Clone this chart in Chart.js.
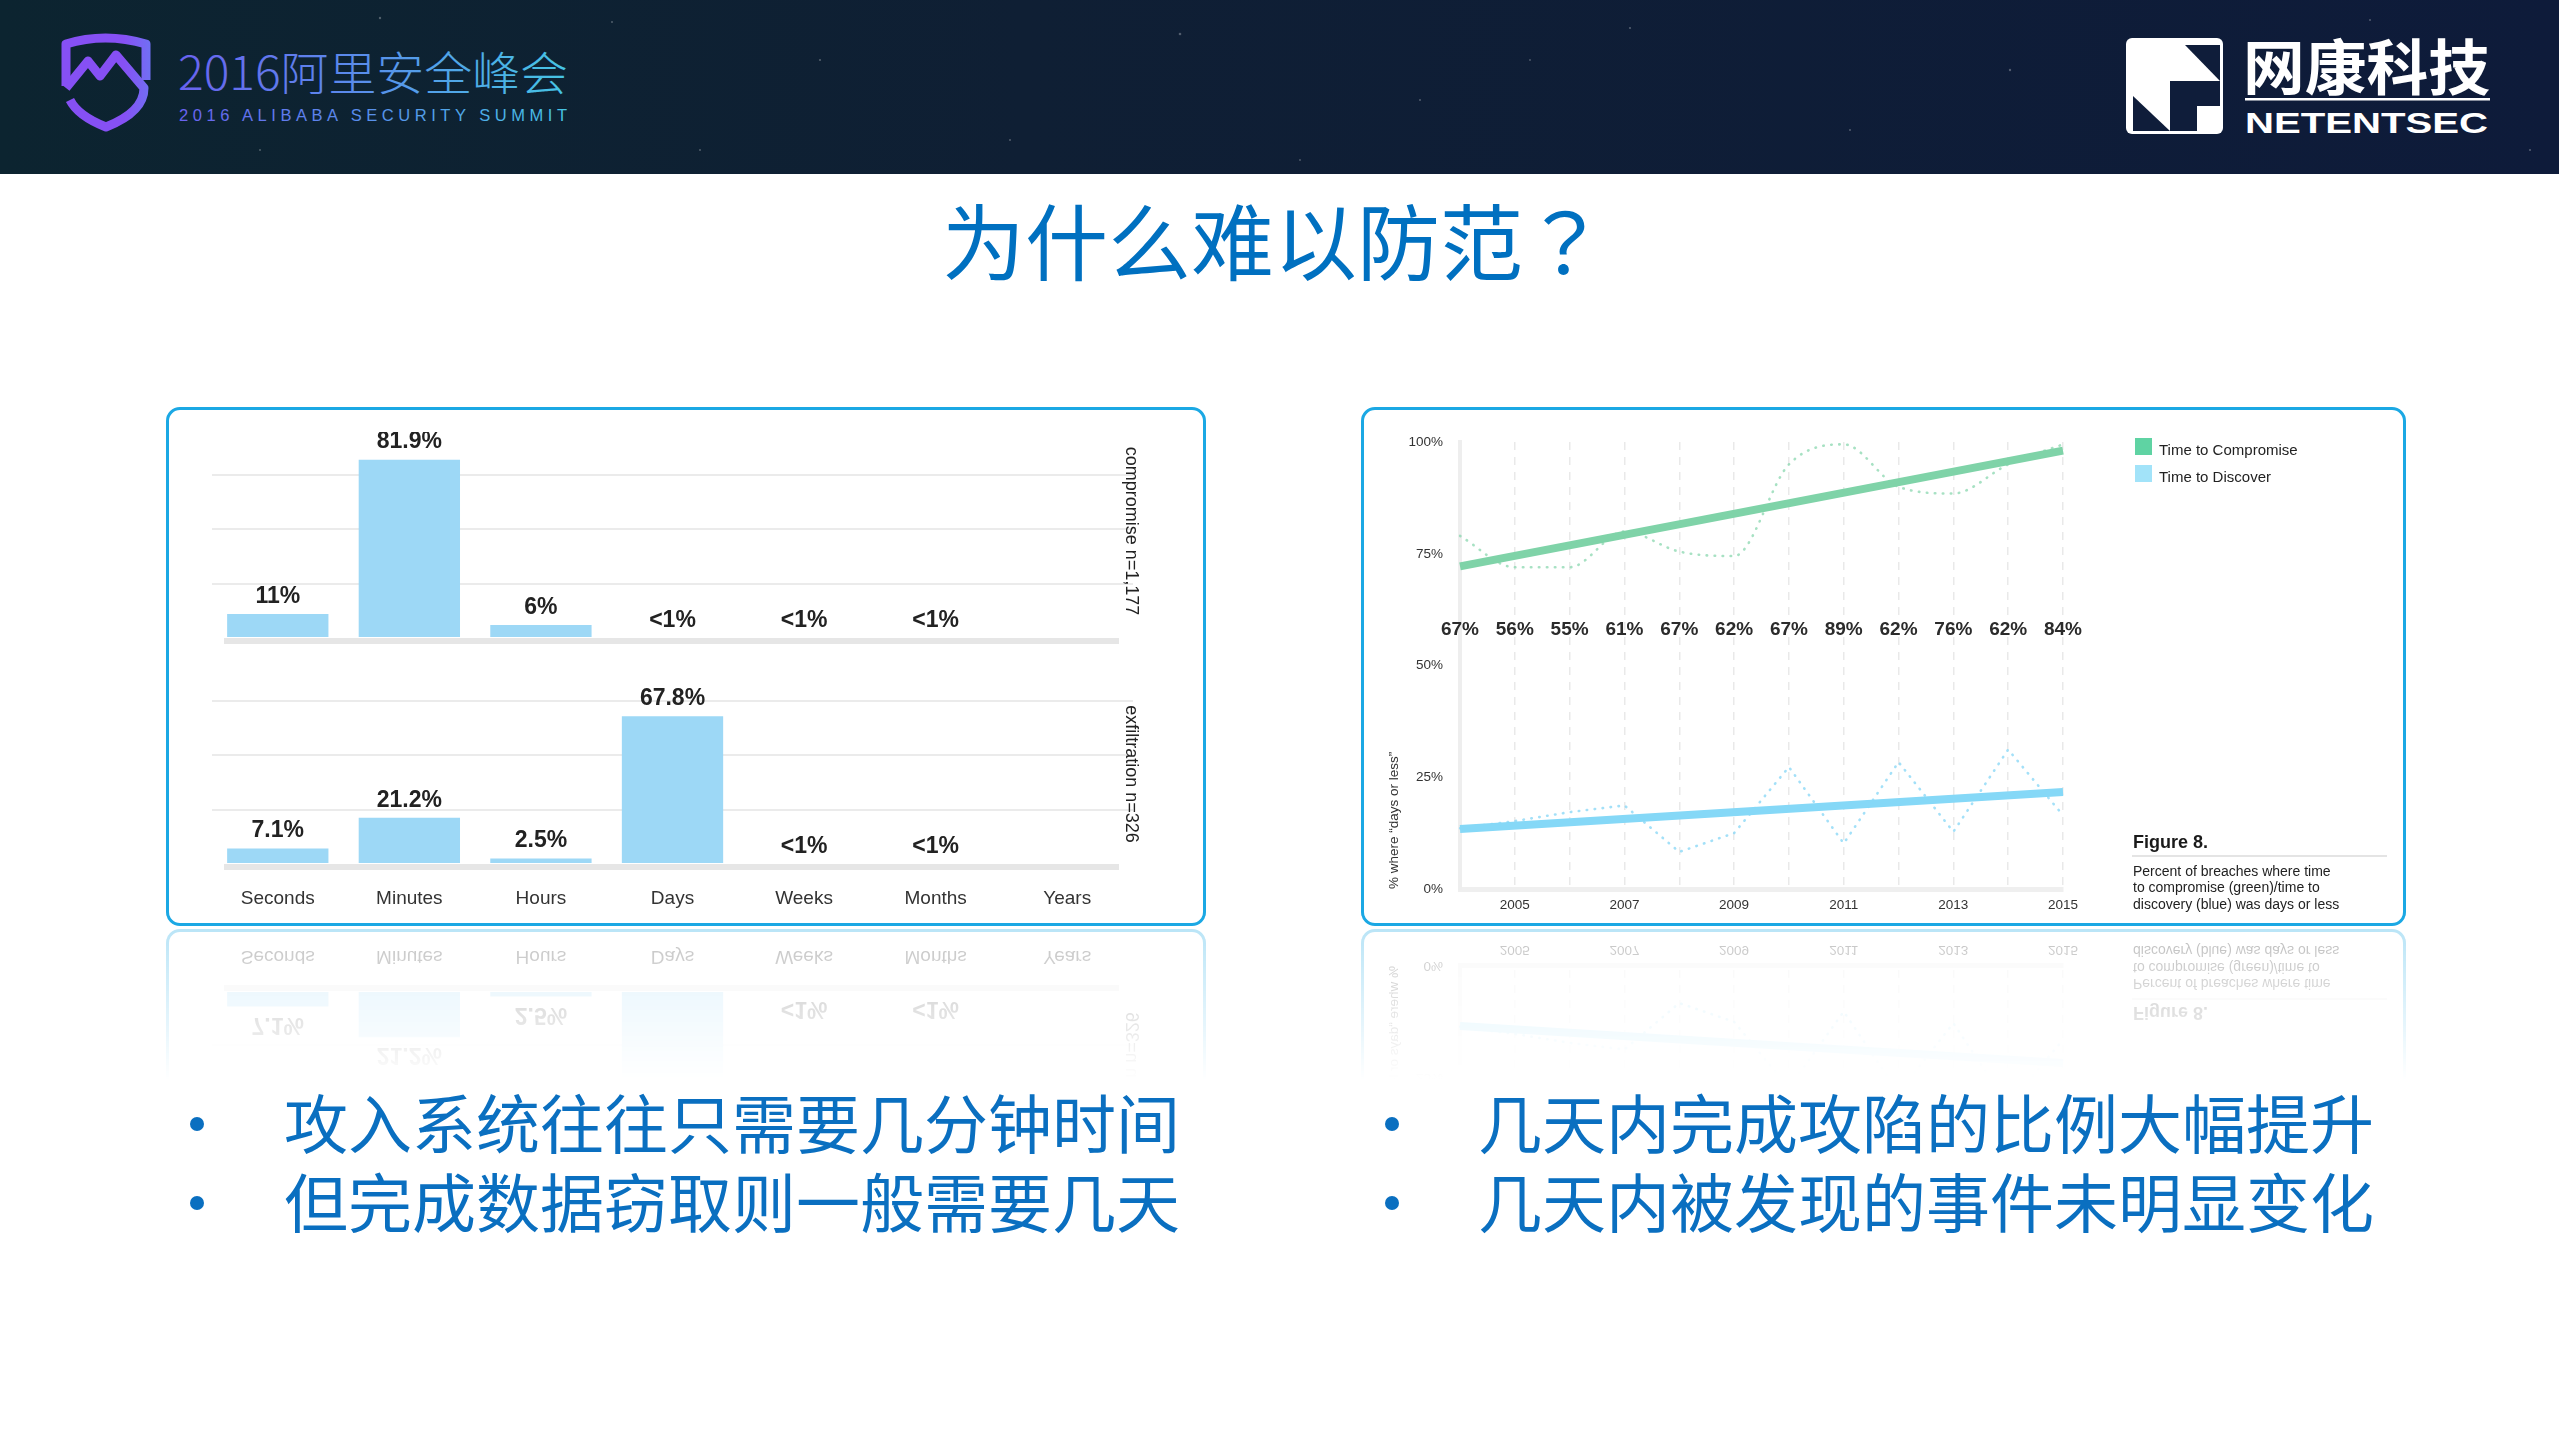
<!DOCTYPE html>
<html lang="zh-CN">
<head>
<meta charset="utf-8">
<title>为什么难以防范？</title>
<script src="https://cdn.jsdelivr.net/npm/chart.js@4.4.1/dist/chart.umd.min.js"></script>
<style>
html,body{margin:0;padding:0;background:#fff;}
body{width:2559px;height:1439px;position:relative;overflow:hidden;font-family:"Liberation Sans",Arial,sans-serif;}
.abs{position:absolute;}
.panel{position:absolute;box-sizing:border-box;border:3px solid #1ba8e4;border-radius:14px;background:#fff;
  -webkit-box-reflect: below 3px linear-gradient(to bottom, rgba(0,0,0,0) 71%, rgba(0,0,0,0.30) 100%);}
.panel canvas{position:absolute;}
.rot{position:absolute;transform:translate(-50%,-50%) rotate(90deg);white-space:nowrap;font-size:18px;color:#222;}
.cjk{font-family:"Noto Sans CJK SC","Noto Sans CJK TC",sans-serif;}
.title{position:absolute;left:942px;top:197px;font-size:83px;line-height:1;color:#0070c0;white-space:nowrap;}
.qm{font-family:"Noto Sans CJK TC","Noto Sans CJK JP",sans-serif;}
.bl{position:absolute;font-size:64px;line-height:1;color:#0a6fc0;white-space:nowrap;}
.dot{position:absolute;width:14px;height:14px;border-radius:50%;background:#0a6fc0;}
.lg{position:absolute;font-size:15px;line-height:17px;color:#222;white-space:nowrap;}
.sq{position:absolute;width:17px;height:17px;}
</style>
</head>
<body>

<svg class="abs" style="left:0;top:0" width="2559" height="174" xmlns="http://www.w3.org/2000/svg">
  <defs>
    <linearGradient id="hbg" x1="0" y1="0" x2="1" y2="0">
      <stop offset="0" stop-color="#0c2430"/>
      <stop offset="0.4" stop-color="#0f1f34"/>
      <stop offset="1" stop-color="#0e1b3a"/>
    </linearGradient>
    <linearGradient id="tg" gradientUnits="userSpaceOnUse" x1="178" y1="0" x2="570" y2="0">
      <stop offset="0" stop-color="#6a62ef"/>
      <stop offset="0.45" stop-color="#5a8ceb"/>
      <stop offset="1" stop-color="#45c6e4"/>
    </linearGradient>
    <linearGradient id="sg" gradientUnits="userSpaceOnUse" x1="62" y1="0" x2="150" y2="0">
      <stop offset="0" stop-color="#8650f4"/>
      <stop offset="1" stop-color="#3fb8f0"/>
    </linearGradient>
  </defs>
  <rect x="0" y="0" width="2559" height="174" fill="url(#hbg)"/>
  <g fill="#ffffff" opacity="0.28">
    <circle cx="380" cy="18" r="1.2"/><circle cx="612" cy="22" r="1"/><circle cx="820" cy="60" r="1.1"/>
    <circle cx="1010" cy="140" r="1"/><circle cx="1180" cy="34" r="1.3"/><circle cx="1420" cy="100" r="1"/>
    <circle cx="1630" cy="28" r="1.1"/><circle cx="1850" cy="130" r="1"/><circle cx="2010" cy="70" r="1.2"/>
    <circle cx="2370" cy="20" r="1"/><circle cx="2530" cy="150" r="1.1"/><circle cx="700" cy="150" r="1"/>
    <circle cx="260" cy="150" r="1"/><circle cx="1300" cy="160" r="0.9"/><circle cx="1530" cy="60" r="0.9"/>
  </g>
  <g transform="translate(62,36)" fill="none" stroke="url(#sg)" stroke-width="9" stroke-linejoin="round">
    <path d="M4,50 L4,8 Q43,-4 84,8 L84,44"/>
    <path d="M4,52 L26,25 L38,40 L54,19 L82,52 Q82,76 44,91 Q16,80 8,64"/>
  </g>
  <text x="178" y="90" font-family="Noto Sans CJK SC" font-weight="300" font-size="46" fill="url(#tg)" textLength="390" lengthAdjust="spacingAndGlyphs">2016阿里安全峰会</text>
  <text x="179" y="121" font-family="Liberation Sans, Arial" font-size="16.5" fill="url(#tg)" textLength="388" lengthAdjust="spacing">2016 ALIBABA SECURITY SUMMIT</text>
  <g transform="translate(2126,38)">
    <rect x="0" y="0" width="97" height="96" rx="6" fill="#ffffff"/>
    <polygon points="59,7 94,7 94,43" fill="#0f1d3a"/>
    <polygon points="44,43 94,43 94,68 71,68 71,93 44,93" fill="#0f1d3a"/>
    <polygon points="7,58 7,93 44,93" fill="#0f1d3a"/>
  </g>
  <text x="2243" y="90" font-family="Noto Sans CJK SC" font-weight="700" font-size="60" fill="#ffffff" textLength="247" lengthAdjust="spacingAndGlyphs">网康科技</text>
  <rect x="2245" y="98" width="245" height="2.5" fill="#ffffff"/>
  <text x="2245" y="133" font-family="Liberation Sans, Arial" font-weight="700" font-size="30" fill="#ffffff" textLength="243" lengthAdjust="spacingAndGlyphs">NETENTSEC</text>
</svg>

<div class="title cjk">为什么难以防范<span class="qm" lang="zh-Hant">？</span></div>

<div class="panel" style="left:166px;top:407px;width:1040px;height:519px">
  <canvas id="cTop" width="921" height="214" style="left:43px;top:22px;width:921px;height:214px"></canvas>
  <canvas id="cBot" width="921" height="256" style="left:43px;top:248px;width:921px;height:256px"></canvas>
  <div class="rot" style="left:962px;top:121px">compromise n=1,177</div>
  <div class="rot" style="left:962px;top:364px">exfiltration n=326</div>
</div>

<div class="panel" style="left:1361px;top:407px;width:1045px;height:519px">
  <canvas id="cLine" width="720" height="502" style="left:19px;top:7px;width:720px;height:502px"></canvas>
  <div class="sq" style="left:771px;top:28px;background:#5fd3a3"></div>
  <div class="lg" style="left:795px;top:30.5px">Time to Compromise</div>
  <div class="sq" style="left:771px;top:55px;background:#a2e3f9"></div>
  <div class="lg" style="left:795px;top:57.5px">Time to Discover</div>
  <div class="lg" style="left:769px;top:422px;font-size:18px;line-height:20px;font-weight:bold;color:#1a1a1a">Figure 8.</div>
  <div class="abs" style="left:768px;top:445px;width:255px;height:2px;background:#e4e4e4"></div>
  <div class="lg" style="left:769px;top:452.5px;font-size:14px;line-height:16.6px">Percent of breaches where time<br>to compromise (green)/time to<br>discovery (blue) was days or less</div>
</div>

<div class="dot" style="left:190px;top:1117px"></div>
<div class="bl cjk" style="left:284px;top:1088px">攻入系统往往只需要几分钟时间</div>
<div class="dot" style="left:190px;top:1196px"></div>
<div class="bl cjk" style="left:284px;top:1167px">但完成数据窃取则一般需要几天</div>
<div class="dot" style="left:1385px;top:1117px"></div>
<div class="bl cjk" style="left:1478px;top:1088px">几天内完成攻陷的比例大幅提升</div>
<div class="dot" style="left:1385px;top:1196px"></div>
<div class="bl cjk" style="left:1478px;top:1167px">几天内被发现的事件未明显变化</div>

<script>
// ---------- data ----------
const categories = ['Seconds', 'Minutes', 'Hours', 'Days', 'Weeks', 'Months', 'Years'];
const compromiseShare = [11, 81.9, 6, 0, 0, 0, null];
const compromiseLabels = ['11%', '81.9%', '6%', '<1%', '<1%', '<1%', ''];
const exfiltrationShare = [7.1, 21.2, 2.5, 67.8, 0, 0, null];
const exfiltrationLabels = ['7.1%', '21.2%', '2.5%', '67.8%', '<1%', '<1%', ''];

const years = ['2004', '2005', '2006', '2007', '2008', '2009', '2010', '2011', '2012', '2013', '2014', '2015'];
const yearTickLabels = ['', '2005', '', '2007', '', '2009', '', '2011', '', '2013', '', '2015'];
const yearPctLabels = ['67%', '56%', '55%', '61%', '67%', '62%', '67%', '89%', '62%', '76%', '62%', '84%'];
const compromiseDaysOrLess = [79, 72, 72, 80, 75.5, 74.5, 95, 99.5, 90, 88.5, 95, 99.5];
const discoverDaysOrLess = [13.6, 15.2, 17.2, 18.7, 8.3, 12.5, 27.3, 10.2, 28.4, 12.8, 31.2, 16.5];
const compromiseTrend = [72.2, null, null, null, null, null, null, null, null, null, null, 98.1];
const discoverTrend = [13.4, null, null, null, null, null, null, null, null, null, null, 21.7];
const yPercentTicks = [0, 25, 50, 75, 100];

// ---------- styling constants ----------
const FONT = '"Liberation Sans", Arial, sans-serif';
const barGrid = [25, 50, 75];
const pctRowValue = 58;

// ---------- bar charts ----------
const baselinePlugin = {
  id: 'baseline',
  afterDatasetsDraw(chart) {
    const { ctx, chartArea, scales: { y } } = chart;
    const y0 = y.getPixelForValue(0);
    ctx.save();
    ctx.fillStyle = '#e6e6e6';
    ctx.fillRect(chartArea.left + 12, y0, chartArea.right - chartArea.left - 26, 6);
    ctx.restore();
  }
};
function makeLabelPlugin(texts) {
  return {
    id: 'barLabels',
    afterDatasetsDraw(chart) {
      const { ctx } = chart;
      const meta = chart.getDatasetMeta(0);
      ctx.save();
      ctx.font = 'bold 23px ' + FONT;
      ctx.fillStyle = '#222';
      ctx.textAlign = 'center';
      ctx.textBaseline = 'bottom';
      meta.data.forEach((bar, i) => {
        if (texts[i]) ctx.fillText(texts[i], bar.x, bar.y - 6);
      });
      ctx.restore();
    }
  };
}
function barChart(id, values, texts, showX) {
  const xScale = {
    display: showX,
    grid: { display: false, drawTicks: false },
    border: { display: false },
    ticks: { color: '#333', font: { size: 19, family: FONT }, padding: 23, autoSkip: false, maxRotation: 0 }
  };
  if (showX) xScale.afterFit = s => { s.height = 50; };
  else xScale.afterFit = s => { s.height = 0; };
  return new Chart(document.getElementById(id), {
    type: 'bar',
    data: {
      labels: categories,
      datasets: [{
        data: values,
        backgroundColor: '#9dd8f6',
        borderWidth: 0,
        barPercentage: 0.77,
        categoryPercentage: 1
      }]
    },
    options: {
      responsive: false,
      animation: false,
      devicePixelRatio: 1,
      layout: { padding: { top: 10, bottom: showX ? 0 : 8, left: 0, right: 0 } },
      plugins: { legend: { display: false }, tooltip: { enabled: false } },
      scales: {
        x: xScale,
        y: {
          min: 0, max: 90,
          ticks: { display: false, stepSize: 25 },
          grid: {
            drawTicks: false, lineWidth: 2,
            color: c => (c.tick && barGrid.includes(c.tick.value)) ? '#ebebeb' : 'rgba(0,0,0,0)'
          },
          border: { display: false },
          afterFit: s => { s.width = 0; }
        }
      }
    },
    plugins: [baselinePlugin, makeLabelPlugin(texts)]
  });
}
barChart('cTop', compromiseShare, compromiseLabels, false);
barChart('cBot', exfiltrationShare, exfiltrationLabels, true);

// ---------- line chart ----------
const yearPctPlugin = {
  id: 'yearPct',
  afterDatasetsDraw(chart) {
    const { ctx, scales: { x, y } } = chart;
    const py = y.getPixelForValue(pctRowValue);
    ctx.save();
    ctx.font = 'bold 19px ' + FONT;
    ctx.fillStyle = '#2b2b2b';
    ctx.textAlign = 'center';
    ctx.textBaseline = 'middle';
    yearPctLabels.forEach((t, i) => ctx.fillText(t, x.getPixelForValue(i), py));
    ctx.restore();
  }
};
new Chart(document.getElementById('cLine'), {
  type: 'line',
  data: {
    labels: years,
    datasets: [
      { data: compromiseTrend, borderColor: '#7fd3a8', borderWidth: 8, spanGaps: true, pointRadius: 0, borderCapStyle: 'butt', fill: false },
      { data: discoverTrend, borderColor: '#85d8f7', borderWidth: 8, spanGaps: true, pointRadius: 0, borderCapStyle: 'butt', fill: false },
      { data: compromiseDaysOrLess, borderColor: 'rgba(130,212,170,0.7)', borderWidth: 2.6, borderDash: [0.5, 7.5], borderCapStyle: 'round', pointRadius: 0, cubicInterpolationMode: 'monotone', fill: false },
      { data: discoverDaysOrLess, borderColor: 'rgba(140,216,246,0.8)', borderWidth: 2.6, borderDash: [0.5, 7.5], borderCapStyle: 'round', pointRadius: 0, tension: 0, fill: false }
    ]
  },
  options: {
    responsive: false,
    animation: false,
    devicePixelRatio: 1,
    layout: { padding: { top: 10.5, right: 40, left: 0, bottom: 0 } },
    plugins: { legend: { display: false }, tooltip: { enabled: false } },
    scales: {
      x: {
        grid: { color: '#e9e9e9', lineWidth: 1.5, drawTicks: false },
        border: { color: '#efefef', width: 5, dash: [8, 7] },
        ticks: { autoSkip: false, maxRotation: 0, padding: 8, color: '#333', font: { size: 13.5, family: FONT },
                 callback: (v, i) => yearTickLabels[i] },
        afterFit: s => { s.height = 30; }
      },
      y: {
        min: 0, max: 100,
        afterBuildTicks: s => { s.ticks = yPercentTicks.map(v => ({ value: v })); },
        ticks: { padding: 17, color: '#333', font: { size: 13.5, family: FONT }, callback: v => v + '%' },
        grid: { display: false, drawTicks: false },
        border: { color: '#eeeeee', width: 4 },
        title: { display: true, text: '% where “days or less”', align: 'start', color: '#333',
                 font: { size: 13.5, family: FONT }, padding: { top: 3, bottom: 0 } },
        afterFit: s => { s.width = 77; }
      }
    }
  },
  plugins: [yearPctPlugin]
});
</script>
</body>
</html>
